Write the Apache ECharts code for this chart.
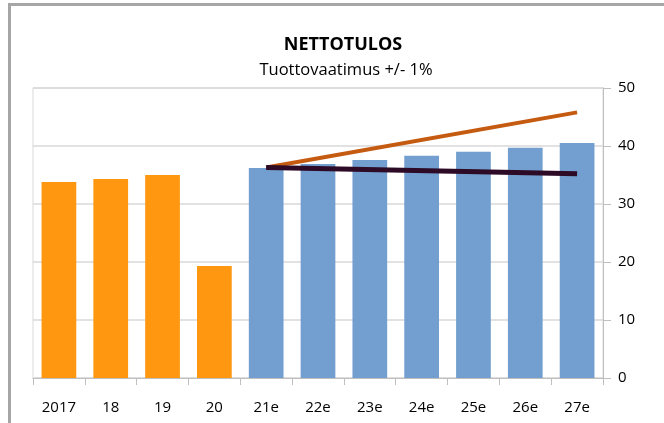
<!DOCTYPE html>
<html>
<head>
<meta charset="utf-8">
<script src="https://cdn.jsdelivr.net/npm/echarts@6/dist/echarts.min.js"></script>
<style>
html,body{margin:0;padding:0;background:#fff;}
#c{width:664px;height:423px;}
</style>
</head>
<body>
<div id="c"></div>
<script>
var categories = ['2017','18','19','20','21e','22e','23e','24e','25e','26e','27e'];
var actualValues = [33.8, 34.3, 35.0, 19.3, '-', '-', '-', '-', '-', '-', '-'];
var estimateValues = ['-', '-', '-', '-', 36.2, 36.9, 37.6, 38.3, 39.0, 39.7, 40.5];
var upperLine = [null, null, null, null, 36.3, null, null, null, null, null, 45.8];
var lowerLine = [null, null, null, null, 36.3, null, null, null, null, null, 35.2];
var yTicks = {min: 0, max: 50, interval: 10};

var chart = echarts.init(document.getElementById('c'));
var font = 'Open Sans';
chart.setOption({
  animation: false,
  textStyle: {fontFamily: font},
  title: [
    {text: 'NETTOTULOS', left: 338, top: 31, textAlign: 'center',
     textStyle: {fontFamily: font, fontSize: 18, fontWeight: 'bold', color: '#000'}},
    {text: 'Tuottovaatimus +/- 1%', left: 341, top: 57, textAlign: 'center',
     textStyle: {fontFamily: font, fontSize: 16.5, fontWeight: 'normal', color: '#000'}}
  ],
  graphic: [
    {type: 'line', shape: {x1: 9.5, y1: 4, x2: 9.5, y2: 423}, style: {stroke: '#a6a6a6', lineWidth: 3}},
    {type: 'line', shape: {x1: 8, y1: 4.5, x2: 664, y2: 4.5}, style: {stroke: '#a6a6a6', lineWidth: 3}}
  ],
  grid: {left: 33, right: 61, top: 88, bottom: 45, show: true, borderColor: '#d9d9d9', borderWidth: 1},
  xAxis: {
    type: 'category', data: categories, boundaryGap: true,
    axisLine: {lineStyle: {color: '#bfbfbf', width: 1}},
    axisTick: {show: true, alignWithLabel: false, length: 7, lineStyle: {color: '#bfbfbf'}},
    axisLabel: {color: '#000', fontSize: 15, margin: 22, fontFamily: font}
  },
  yAxis: {
    type: 'value', position: 'right', min: yTicks.min, max: yTicks.max, interval: yTicks.interval,
    axisLine: {show: true, lineStyle: {color: '#bfbfbf', width: 1}},
    axisTick: {show: true, length: 8, lineStyle: {color: '#bfbfbf'}},
    axisLabel: {color: '#000', fontSize: 15, margin: 15, fontFamily: font},
    splitLine: {lineStyle: {color: '#d9d9d9', width: 1.5}}
  },
  series: [
    {type: 'bar', stack: 'b', data: actualValues, barWidth: '67%', itemStyle: {color: '#ff9711'}},
    {type: 'bar', stack: 'b', data: estimateValues, barWidth: '67%', itemStyle: {color: '#729fcf'}},
    {type: 'line', data: upperLine, connectNulls: true, symbol: 'none',
     lineStyle: {color: '#c55a11', width: 4}, z: 5},
    {type: 'line', data: lowerLine, connectNulls: true, symbol: 'none',
     lineStyle: {color: '#2d0a26', width: 5}, z: 6}
  ]
});
</script>
</body>
</html>
